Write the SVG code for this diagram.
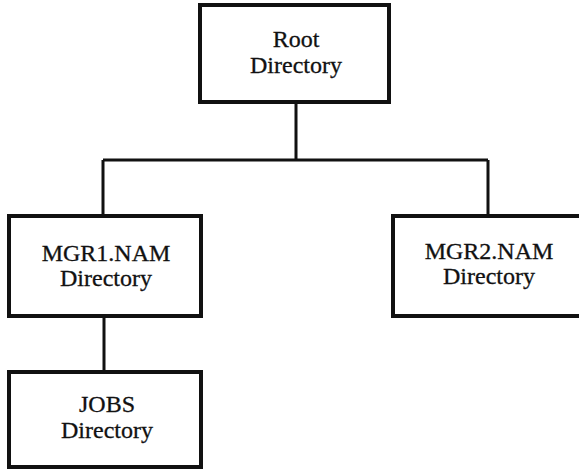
<svg xmlns="http://www.w3.org/2000/svg" width="579" height="469" viewBox="0 0 579 469">
<style>
.box{fill:#fff;stroke:#111;stroke-width:4}
.ln{fill:none;stroke:#111;stroke-width:3}
.t{font-family:"Liberation Serif","Times New Roman",serif;font-size:24px;fill:#111;stroke:#111;stroke-width:0.3;text-anchor:middle}
</style>
<rect width="579" height="469" fill="#fff"/>
<g id="connectors">
<path class="ln" d="M296 102V160M103 160H488M103 160V216M488 160V216M104 316V372"/>
</g>
<g id="root">
<rect class="box" x="200" y="5" width="189" height="97"/>
<text class="t" x="296" y="47">Root</text>
<text class="t" x="296" y="73">Directory</text>
</g>
<g id="mgr1">
<rect class="box" x="9" y="216" width="192" height="100"/>
<text class="t" x="106" y="261">MGR1.NAM</text>
<text class="t" x="106" y="286">Directory</text>
</g>
<g id="mgr2">
<rect class="box" x="393" y="216" width="192" height="100"/>
<text class="t" x="489" y="259">MGR2.NAM</text>
<text class="t" x="489" y="284">Directory</text>
</g>
<g id="jobs">
<rect class="box" x="9" y="372" width="192" height="95"/>
<text class="t" x="107" y="412">JOBS</text>
<text class="t" x="107" y="438">Directory</text>
</g>
</svg>
